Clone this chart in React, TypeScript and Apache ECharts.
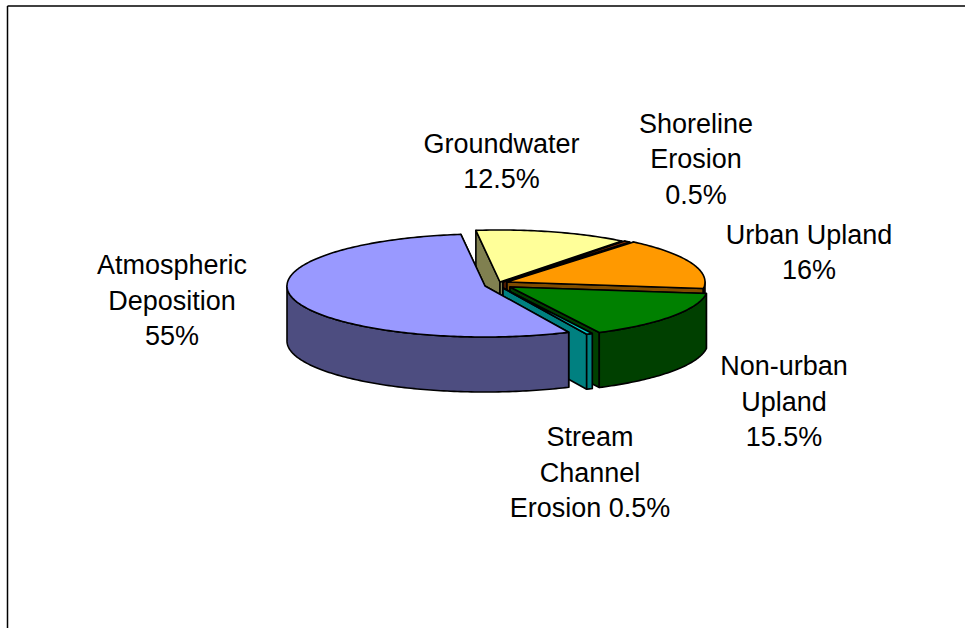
import React, { useEffect, useRef } from "react";
import * as echarts from "echarts";

const labels = [
  "Groundwater\n12.5%",
  "Shoreline\nErosion\n0.5%",
  "Urban Upland\n16%",
  "Non-urban\nUpland\n15.5%",
  "Stream\nChannel\nErosion 0.5%",
  "Atmospheric\nDeposition\n55%",
];
const values = [12.5, 0.5, 16, 15.5, 0.5, 55];
const topColors = ["#FFFF99", "#993300", "#FF9900", "#008000", "#00CCCC", "#9999FF"];
const wallColors = ["#808050", "#4D1A00", "#804D00", "#004000", "#008080", "#4D4D80"];
const startAngle = 97;

// Drawing geometry: each slice's pulled-out centre, and the label anchors
const sliceCentres = [[500, 282], [503, 282], [507, 282], [510, 287], [503, 288], [485, 286]];
const labelAnchors = [[501.5, 161.5], [696, 159], [809, 252.5], [784, 401.5], [590, 472.5], [172, 300.5]];
const RX = 198, RY_BACK = 52, RY_FRONT = 51, DEPTH = 55;

const rad = (d: number) => (d * Math.PI) / 180;
const onRim = (c: number[], t: number) => {
  const s = Math.sin(rad(t));
  return [c[0] + RX * Math.cos(rad(t)), c[1] - (s >= 0 ? RY_BACK : RY_FRONT) * s];
};
const arc = (c: number[], from: number, to: number) => {
  const pts: number[][] = [];
  const n = Math.max(1, Math.ceil(Math.abs(from - to)));
  for (let i = 0; i <= n; i++) pts.push(onRim(c, from + ((to - from) * i) / n));
  return pts;
};
const down = (p: number[]) => [p[0], p[1] + DEPTH];
const total = values.reduce((a, b) => a + b, 0);
const sweep = (i: number) => {
  const before = values.slice(0, i).reduce((a, b) => a + b, 0);
  return [startAngle - (before / total) * 360, startAngle - ((before + values[i]) / total) * 360];
};

export default function App() {
  const ref = useRef<HTMLDivElement>(null);
  useEffect(() => {
    document.body.style.margin = "0";
    const chart = echarts.init(ref.current!, null, { renderer: "svg" });
    const stroke = { stroke: "#000", lineWidth: 1.6, lineJoin: "round" };
    chart.setOption({
      animation: false,
      backgroundColor: "#fff",
      graphic: [
        { type: "line", shape: { x1: 7.5, y1: 6, x2: 965, y2: 6 }, style: { stroke: "#000", lineWidth: 1.5 } },
        { type: "line", shape: { x1: 7.5, y1: 6, x2: 7.5, y2: 628 }, style: { stroke: "#000", lineWidth: 1.5 } },
        ...labels.map((t, i) => ({
          type: "text",
          x: labelAnchors[i][0],
          y: labelAnchors[i][1],
          style: {
            text: t,
            fontFamily: "Liberation Sans",
            fontSize: 27,
            lineHeight: 35.5,
            align: "center",
            verticalAlign: "middle",
            fill: "#000",
          },
        })),
      ],
      series: [
        {
          type: "custom",
          coordinateSystem: "none",
          silent: true,
          data: values,
          renderItem: (params: any) => {
            const i = params.dataIndex;
            const c = sliceCentres[i];
            const [t0, t1] = sweep(i);
            const face = (t: number) => {
              const o = onRim(c, t);
              return [c, o, down(o), down(c)];
            };
            const children: any[] = [];
            const poly = (points: number[][], fill: string) =>
              children.push({ type: "polygon", shape: { points }, style: { fill, ...stroke } });
            poly(face(t0), wallColors[i]);
            poly(face(t1), wallColors[i]);
            const hi = Math.min(t0, 0);
            const lo = Math.max(t1, -180);
            if (hi > lo) {
              const a = arc(c, hi, lo);
              poly([...a, ...a.slice().reverse().map(down)], wallColors[i]);
            }
            poly([c, ...arc(c, t0, t1)], topColors[i]);
            return { type: "group", children };
          },
        },
      ],
    });
    return () => chart.dispose();
  }, []);
  return <div ref={ref} style={{ position: "absolute", left: 0, top: 0, width: 965, height: 628 }} />;
}
